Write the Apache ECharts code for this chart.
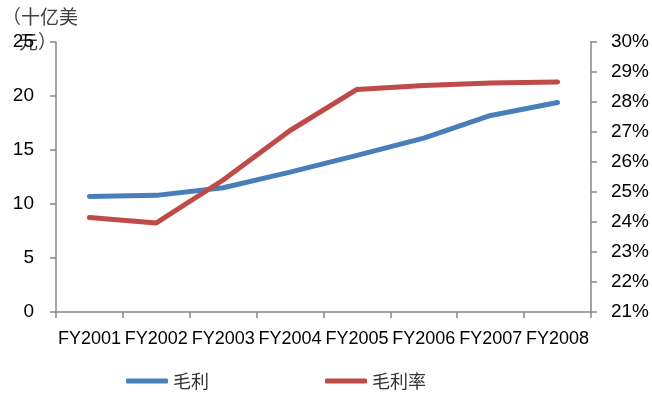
<!DOCTYPE html>
<html>
<head>
    <meta charset="UTF-8">
    <title></title>
    <script src="https://cdn.jsdelivr.net/npm/echarts@6/dist/echarts.min.js"></script>
    <style>
        html, body {margin: 0; padding: 0; background: #fff;}
        #main {width: 652px; height: 398px;}
    </style>
</head>
<body>
<div id="main"></div>
<script type="text/javascript">
    // 数据
    var years = ['FY2001', 'FY2002', 'FY2003', 'FY2004', 'FY2005', 'FY2006', 'FY2007', 'FY2008'];
    var grossProfit = [10.7, 10.8, 11.5, 12.95, 14.5, 16.1, 18.2, 19.4];   // 十亿美元
    var grossMargin = [24.15, 23.97, 25.4, 27.05, 28.42, 28.55, 28.63, 28.67]; // %
    var leftTicks = [0, 25, 5];
    var rightTicks = [21, 30, 1];

    var myChart = echarts.init(document.getElementById('main'));
    var axisColor = '#868686';
    var labelFont = '"Liberation Sans Narrow", "Liberation Sans", Arial, sans-serif';
    var cjkFont = '"Noto Sans CJK SC", sans-serif';
    // 单位标题（两行居中）
    var unitStyle = {font: '19px ' + cjkFont, fill: '#404040'};
    var option = {
        animation: false,
        graphic: [{
            type: 'text',
            left: 2,
            top: 7,
            style: Object.assign({text: '（十亿美'}, unitStyle)
        }, {
            type: 'text',
            left: 19,
            top: 32,
            style: Object.assign({text: '元）'}, unitStyle)
        }],
        legend: {
            bottom: 3,
            left: 121,
            itemWidth: 42,
            itemHeight: 5,
            itemGap: 116,
            icon: 'roundRect',
            textStyle: {
                fontFamily: cjkFont,
                fontSize: 18,
                color: '#333'
            },
            data: ['毛利', '毛利率']
        },
        grid: {left: 56, right: 59, top: 42, bottom: 86, containLabel: false},
        xAxis: {
            type: 'category',
            data: years,
            boundaryGap: true,
            axisLine: {lineStyle: {color: axisColor, width: 1.5}},
            axisTick: {show: true, length: 6, lineStyle: {color: axisColor, width: 1.5}},
            axisLabel: {fontFamily: labelFont, fontSize: 18, color: '#000', margin: 18, interval: 0}
        },
        yAxis: [{
            type: 'value',
            min: leftTicks[0],
            max: leftTicks[1],
            interval: leftTicks[2],
            splitLine: {show: false},
            axisLine: {show: true, lineStyle: {color: axisColor, width: 1.5}},
            axisTick: {show: true, length: 6, lineStyle: {color: axisColor, width: 1.5}},
            axisLabel: {fontFamily: '"Liberation Sans", Arial, sans-serif', fontSize: 19, color: '#000', margin: 22}
        }, {
            type: 'value',
            position: 'right',
            min: rightTicks[0],
            max: rightTicks[1],
            interval: rightTicks[2],
            splitLine: {show: false},
            axisLine: {show: true, lineStyle: {color: axisColor, width: 1.5}},
            axisTick: {show: true, length: 6, lineStyle: {color: axisColor, width: 1.5}},
            axisLabel: {fontFamily: '"Liberation Sans", Arial, sans-serif', fontSize: 19, color: '#000', margin: 20, formatter: '{value}%'}
        }],
        series: [{
            name: '毛利',
            type: 'line',
            data: grossProfit,
            yAxisIndex: 0,
            symbol: 'none',
            color: '#4a7ebb',
            lineStyle: {width: 5, color: '#4a7ebb', cap: 'round'}
        }, {
            name: '毛利率',
            type: 'line',
            data: grossMargin,
            yAxisIndex: 1,
            symbol: 'none',
            color: '#be4b48',
            lineStyle: {width: 5, color: '#be4b48', cap: 'round'}
        }]
    };
    myChart.setOption(option);
</script>
</body>
</html>
